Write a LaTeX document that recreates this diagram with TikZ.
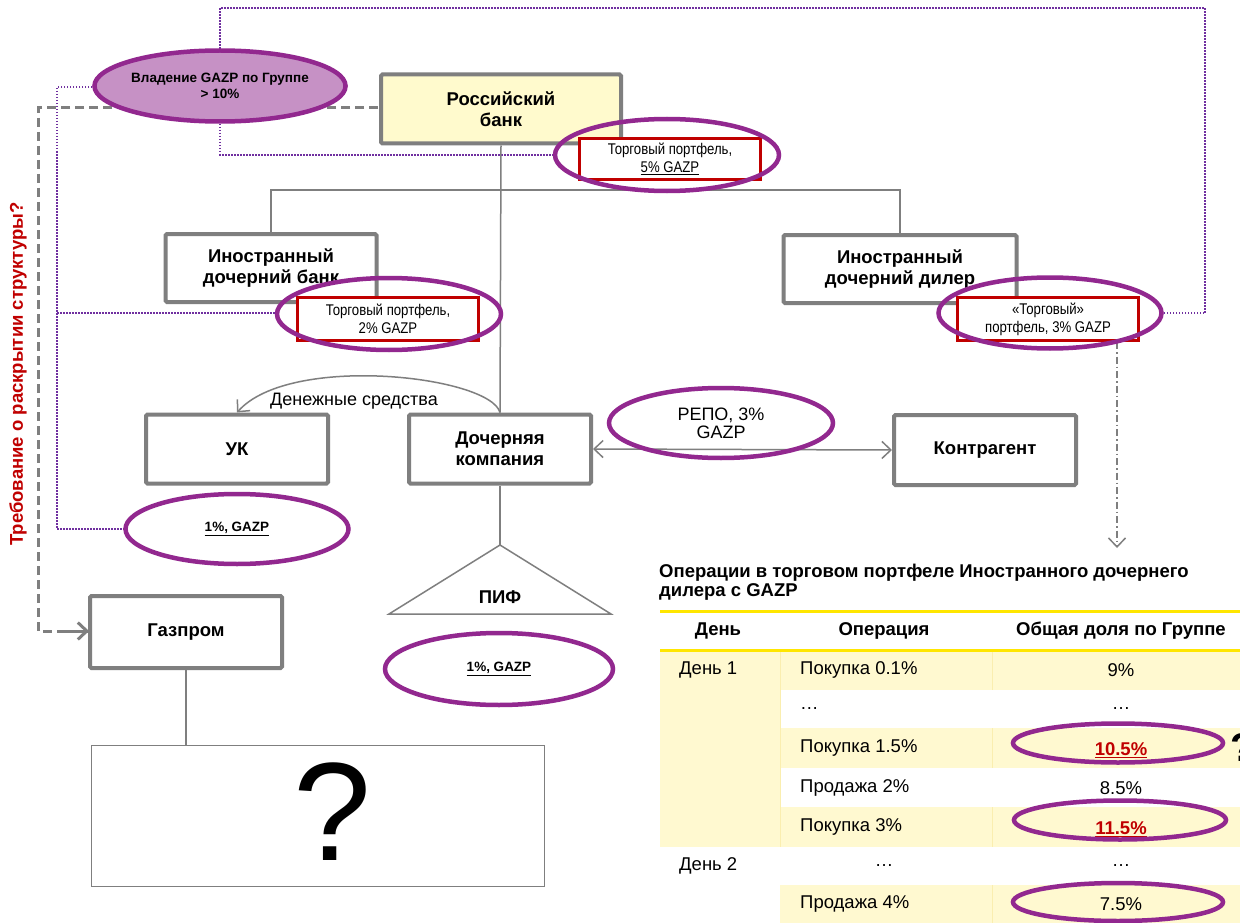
\documentclass[tikz,border=0pt]{standalone}
\usepackage{fontspec}
\setmainfont{Liberation Sans}
\newfontfamily\narrowfont[FakeStretch=0.85]{Liberation Sans}
\usetikzlibrary{positioning,shapes.geometric,arrows.meta}

\definecolor{boxgrey}{RGB}{127,127,127}
\definecolor{bankfill}{RGB}{255,250,205}
\definecolor{ovalpurple}{RGB}{146,40,143}
\definecolor{ownfill}{RGB}{198,145,197}
\definecolor{dotpurple}{RGB}{112,48,160}
\definecolor{portred}{RGB}{192,0,0}
\definecolor{rowyellow}{RGB}{255,249,208}
\definecolor{lineyellow}{RGB}{255,230,0}
\definecolor{divyellow}{RGB}{250,238,175}

\newcommand{\px}[2]{\fontsize{#1}{#2}\selectfont}

\begin{document}
\begin{tikzpicture}[x=1pt,y=-1pt]
\tikzset{
  orgbox/.style={draw=boxgrey, line width=4pt, fill=white, rounded corners=1.5pt, align=center, inner sep=0pt, font=\bfseries\px{18.5}{21}},
  portbox/.style={draw=portred, line width=3pt, fill=white, align=center, inner sep=0pt, font=\narrowfont\px{15.5}{18}},
  oval/.style={ellipse, draw=ovalpurple, line width=4.5pt, align=center, inner sep=0pt},
  link/.style={draw=boxgrey, line width=1.5pt},
  dotlink/.style={draw=dotpurple, line width=1.5pt, dash pattern=on 1.5pt off 1.5pt},
  dashlink/.style={draw=boxgrey, line width=3pt, dash pattern=on 9pt off 5pt},
  vtip/.tip={Straight Barb[length=9pt,width=17pt,line width=1.5pt]},
  cell/.style={inner sep=0pt, font=\px{18.5}{20}},
  headcell/.style={inner sep=0pt, font=\bfseries\px{18.5}{20}}
}
\useasboundingbox (0,0) rectangle (1240,923);
\fill [white] (0,0) rectangle (1240,923);

% ownership flags
\draw [dashlink] (378,108) -- (38,108) |- (88,631);
\draw [boxgrey, line width=3pt, -{Straight Barb[length=9pt,width=17pt]}] (60,631) -- (89,631);
\draw [dotlink] (220,49) -- (220,8) -- (1205,8) -- (1205,313) -- (1163,313);
\draw [dotlink] (220,124) -- (220,155) -- (555,155);
\draw [dotlink] (107,87) -- (57,87) -- (57,529) -- (125,529);
\draw [dotlink] (57,313) -- (277,313);

% boxes
\node [orgbox, fill=bankfill, minimum width=240, minimum height=69] (rbank) at (501,109) {Российский\\банк};
\node [orgbox, minimum width=211, minimum height=68] (fbank) at (271,268) {Иностранный\\дочерний банк};
\node [orgbox, minimum width=233, minimum height=68] (dealer) at (900,269) {Иностранный\\дочерний дилер};
\node [orgbox, minimum width=182, minimum height=69] (subco) at (500,449) {Дочерняя\\компания};
\node [orgbox, minimum width=182, minimum height=69] (uk) at (237,449) {УК};
\node [orgbox, minimum width=182, minimum height=70] (contra) at (985,450) {Контрагент};
\node [orgbox, minimum width=192, minimum height=72] (gazprom) at (186,632) {Газпром};
\node [draw=boxgrey, line width=1.5pt, minimum width=453, minimum height=141] (qbox) at (318,816) {};
\node [inner sep=0pt, font=\px{140}{140}] (qmark) at (332,812) {?};

% tree
\coordinate (fork) at (500,190);
\draw [link] (rbank.south) -- (subco.north);
\draw [link] (fbank.north) |- (fork) -| (dealer.north);
\coordinate (pifTop) at (500,545);
\draw [link] (subco.south) -- (pifTop);
\draw [link] (pifTop) -- (611,614) -- (389,614) -- cycle;
\node [inner sep=0pt, font=\bfseries\px{18.5}{21}] (pif) at (500,597) {ПИФ};
\draw [link] (gazprom.south) -- (gazprom.south |- qbox.north);
\draw [link, -vtip] (subco.north) .. controls (490,376) and (290,353) .. (uk.north);
\node [inner sep=0pt, font=\px{18}{21}] (cash) at (354,401) {Денежные средства};
\draw [link, vtip-vtip] (subco.east) -- (contra.west);

% portfolios
\node [portbox, minimum width=181, minimum height=41] (rbankPort) at (670,159) {Торговый портфель,\\\underline{5\% GAZP}};
\node [portbox, minimum width=181, minimum height=43] (fbankPort) at (388,319) {Торговый портфель,\\2\% GAZP};
\node [portbox, minimum width=181, minimum height=43] (dealerPort) at (1048,319) {«Торговый»\\портфель, 3\% GAZP};
\coordinate (tableArrow) at (1117,548);
\draw [boxgrey, line width=1.2pt, dash pattern=on 7pt off 3pt on 1.5pt off 3pt, -vtip] (dealerPort.south -| tableArrow) -- (tableArrow);

% ovals
\node [oval, fill=ownfill, minimum width=223, minimum height=71, font=\bfseries\px{13.5}{16}] (ownOval) at (220,86) {Владение GAZP по Группе\\> 10\%};
\node [oval, minimum width=224, minimum height=72] (rbankOval) at (667,155) {};
\node [oval, minimum width=224, minimum height=72] (fbankOval) at (389,314) {};
\node [oval, minimum width=223, minimum height=71] (dealerOval) at (1050,313) {};
\node [oval, minimum width=223, minimum height=70, font=\bfseries\px{13.5}{16}] (ukOval) at (237,529) {\underline{1\%, GAZP}};
\node [oval, minimum width=228, minimum height=72, font=\bfseries\px{13.5}{16}] (pifOval) at (499,669) {\underline{1\%, GAZP}};
\node [oval, minimum width=224, minimum height=70, font=\px{18}{18}] (repoOval) at (721,423) {РЕПО, 3\%\\GAZP};

% disclosure question
\node [rotate=90, inner sep=0pt, text=portred, font=\bfseries\px{18.5}{20}] (askNote) at (18,374) {Требование о раскрытии структуры?};

% table of the dealer's trades
\node [anchor=west, align=left, inner sep=0pt, font=\bfseries\px{18.5}{19}] (tabTitle) at (659,582) {Операции в торговом портфеле Иностранного дочернего\\дилера с GAZP};
\fill [rowyellow] (660,650) rectangle (780,847);
\fill [rowyellow] (780,650) rectangle (1240,690);
\fill [rowyellow] (780,728) rectangle (1240,768);
\fill [rowyellow] (780,807) rectangle (1240,847);
\fill [rowyellow] (780,885) rectangle (1240,923);
\draw [divyellow, line width=0.8pt] (780,650) -- (780,847);
\draw [divyellow, line width=0.8pt] (992,650) -- (992,690) (992,728) -- (992,768) (992,807) -- (992,847) (992,885) -- (992,923);
\draw [lineyellow, line width=3pt] (660,611) -- (1240,611);
\draw [lineyellow, line width=3pt] (660,650) -- (1240,650);
\node [headcell] (hDay) at (718,631) {День};
\node [headcell] (hOp) at (884,631) {Операция};
\node [headcell] (hShare) at (1121,631) {Общая доля по Группе};
\node [cell, anchor=west] (day1) at (679,670) {День 1};
\node [cell, anchor=west] (day2) at (679,866) {День 2};
\node [cell, anchor=west] (op1) at (800,670) {Покупка 0.1\%};
\node [cell, anchor=west] (op2) at (800,709) {…};
\node [cell, anchor=west] (op3) at (800,748) {Покупка 1.5\%};
\node [cell, anchor=west] (op4) at (800,788) {Продажа 2\%};
\node [cell, anchor=west] (op5) at (800,827) {Покупка 3\%};
\node [cell] (op6) at (884,866) {…};
\node [cell, anchor=west] (op7) at (800,904) {Продажа 4\%};
\node [cell] (sh1) at (1121,670) {9\%};
\node [cell] (sh2) at (1121,709) {…};
\node [cell, text=portred, font=\bfseries\px{18.5}{20}] (sh3) at (1121,750) {\underline{10.5\%}};
\node [cell] (sh4) at (1121,788) {8.5\%};
\node [cell, text=portred, font=\bfseries\px{18.5}{20}] (sh5) at (1121,829) {\underline{11.5\%}};
\node [cell] (sh6) at (1121,866) {…};
\node [cell] (sh7) at (1121,904) {7.5\%};
\node [oval, minimum width=210, minimum height=39] (ring3) at (1118,743) {};
\node [oval, minimum width=212, minimum height=39] (ring5) at (1120,820) {};
\node [oval, minimum width=210, minimum height=38] (ring7) at (1118,902) {};
\node [anchor=west, inner sep=0pt, font=\bfseries\px{40}{40}] (sideQ) at (1230,748) {?};
\end{tikzpicture}
\end{document}
